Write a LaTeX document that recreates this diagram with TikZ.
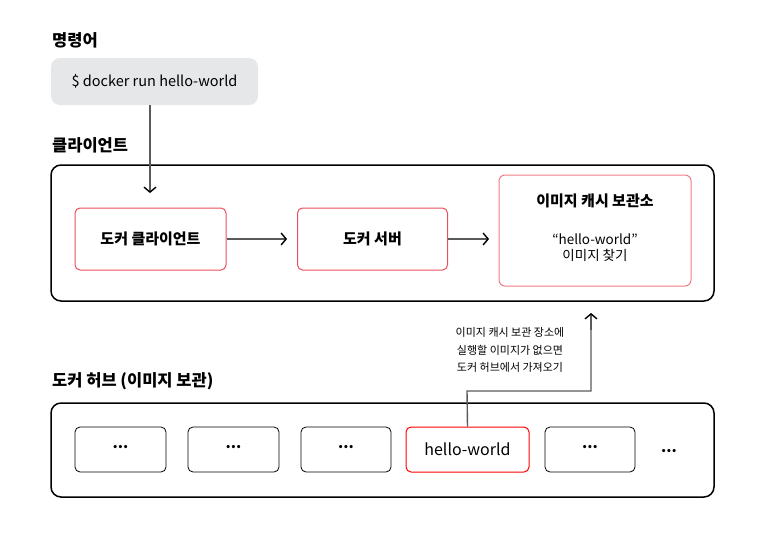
\documentclass[tikz,border=0pt]{standalone}
\usepackage{fontspec}
\setmainfont{Noto Sans CJK KR}
\usetikzlibrary{arrows.meta}
\definecolor{boxred}{HTML}{E8505B}
\definecolor{lightred}{HTML}{EE7C82}
\definecolor{cmdgray}{HTML}{E6E7E9}
\definecolor{linegray}{HTML}{5A5A5A}
\tikzset{
  heading/.style={anchor=west,inner sep=0pt,font=\fontsize{16.5}{18}\selectfont\bfseries},
  container/.style={draw=black,line width=1.5pt,rounded corners=10pt},
  redbox/.style={draw=boxred,line width=1pt,rounded corners=5pt},
  plainbox/.style={draw=black,line width=0.8pt,rounded corners=5pt},
  conn/.style={draw=linegray,line width=1.4pt,-{Straight Barb[length=5pt,width=12pt,color=black,line width=1.4pt]}},
  dots/.style={font=\fontsize{15}{17}\selectfont\bfseries},
}
\begin{document}
\begin{tikzpicture}[x=1pt,y=-1pt]
\useasboundingbox (0,0) rectangle (769,538);
% command
\node[heading] (hcmd) at (52,40) {명령어};
\node[fill=cmdgray,rounded corners=9pt,minimum width=207pt,minimum height=47pt,inner sep=0pt,
  font=\fontsize{14.5}{16}\selectfont] (cmd) at (154.5,81.5) {\$ docker run hello-world};
% client
\node[heading] (hcli) at (52,145) {클라이언트};
\draw[container] (51,165) rectangle (714,301);
\node[redbox,minimum width=151pt,minimum height=62pt,inner sep=0pt,font=\fontsize{15}{17}\selectfont\bfseries] (dc) at (150.5,239) {도커 클라이언트};
\node[redbox,minimum width=150pt,minimum height=62pt,inner sep=0pt,font=\fontsize{15}{17}\selectfont\bfseries] (ds) at (372.5,239) {도커 서버};
\node[draw=lightred,line width=1pt,rounded corners=6pt,minimum width=192pt,minimum height=111pt,inner sep=0pt] (cache) at (595,230.5) {};
\node[font=\fontsize{15}{17}\selectfont\bfseries] (ctitle) at (595,201) {이미지 캐시 보관소};
\node[font=\fontsize{13.5}{17}\selectfont,align=center] (ctext) at (595,247.5) {“hello-world”\\[-1pt]이미지 찾기};
\coordinate (cmdarr) at (150,193);
\draw[conn] (cmd.south -| cmdarr) -- (cmdarr);
\draw[conn] (dc.east) -- (287,239);
\draw[conn] (ds.east) -- (489,239);
% hub
\node[heading] (hhub) at (52,381) {도커 허브 (이미지 보관)};
\draw[container] (51,403) rectangle (714,497);
\tikzset{hubbox/.style={minimum height=45pt,inner sep=0pt,font=\fontsize{15}{17}\selectfont}}
\node[plainbox,hubbox,minimum width=91pt] (b1) at (120.5,449.5) {};
\node[plainbox,hubbox,minimum width=91pt] (b2) at (233.5,449.5) {};
\node[plainbox,hubbox,minimum width=90pt] (b3) at (346,449.5) {};
\node[draw=red,line width=1pt,rounded corners=5pt,hubbox,minimum width=123pt,font=\fontsize{16}{18}\selectfont] (hw) at (467.5,449.5) {hello-world};
\node[plainbox,hubbox,minimum width=90pt] (b5) at (590,449.5) {};
\node[dots] (d1) at ([yshift=2pt]b1.center) {...};
\node[dots] (d2) at ([yshift=2pt]b2.center) {...};
\node[dots] (d3) at ([yshift=2pt]b3.center) {...};
\node[dots] (d5) at ([yshift=2pt]b5.center) {...};
\node[dots] (d6) at (669,451.5) {...};
% pull arrow
\coordinate (up) at (591,313);
\draw[draw=linegray,line width=1.4pt] (hw.north) -- (467,391) -| (591,330);
\draw[conn] (591,330) -- (up);
\node[font=\fontsize{11}{17.5}\selectfont,align=center] (note) at (510,350) {이미지 캐시 보관 장소에\\실행할 이미지가 없으면\\도커 허브에서 가져오기};
\end{tikzpicture}
\end{document}
